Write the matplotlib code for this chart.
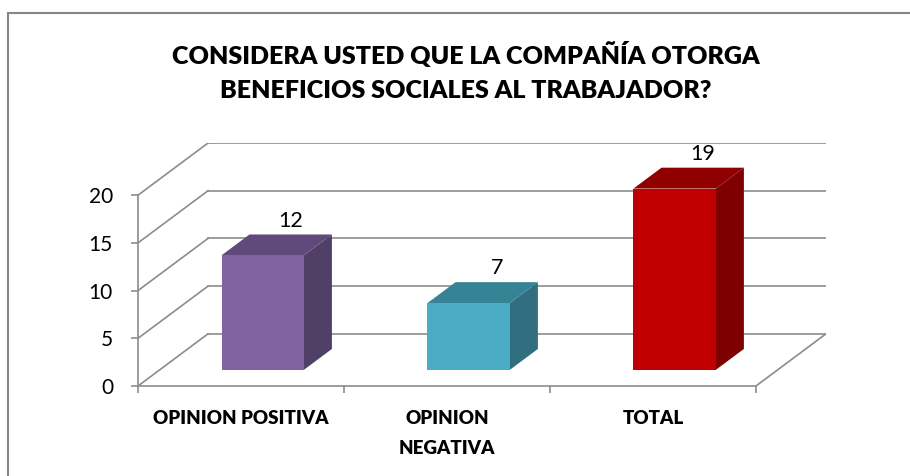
import matplotlib.pyplot as plt
from matplotlib.patches import Polygon
from matplotlib.lines import Line2D

categories = ['OPINION POSITIVA', 'OPINION\nNEGATIVA', 'TOTAL']
values = [12, 7, 19]
front_colors = ['#8064A2', '#4BACC6', '#C00000']
top_colors = ['#604A7B', '#368396', '#900000']
side_colors = ['#503F66', '#316F80', '#7F0000']
yticks = [0, 5, 10, 15, 20]

plt.rcParams['font.family'] = ['Lato', 'DejaVu Sans']

W, H = 910, 476
fig = plt.figure(figsize=(W / 100, H / 100), dpi=100)
# axes: front-left corner of the 3d box at (0, 0)
ax = fig.add_axes([138 / W, (H - 386) / H, (826 - 138) / W, (386 - 143) / H])
ax.set_xlim(0, 3.34)
ax.set_ylim(0, 25.47)

# depth offset of the back wall in data units
dx, dy = 0.34, 5.47
grid = '#8C8C8C'

# back wall gridlines + side wall diagonals
for v in yticks:
    ax.plot([0, dx], [v, v + dy], color=grid, lw=1.2)
    ax.plot([dx, 3 + dx], [v + dy, v + dy], color=grid, lw=1.2)
# floor right edge
ax.plot([3, 3 + dx], [0, dy], color=grid, lw=1.2)

# bars as boxes
w = 0.4
z0, z1 = 0.31, 0.71
for i, v in enumerate(values):
    x0 = i + 0.5 - w / 2 + z0 * dx
    b = z0 * dy
    ddx, ddy = (z1 - z0) * dx, (z1 - z0) * dy
    ax.add_patch(Polygon([(x0 + w, b), (x0 + w + ddx, b + ddy), (x0 + w + ddx, b + ddy + v), (x0 + w, b + v)],
                         closed=True, fc=side_colors[i], ec='none', zorder=3))
    ax.add_patch(Polygon([(x0, b + v), (x0 + w, b + v), (x0 + w + ddx, b + v + ddy), (x0 + ddx, b + v + ddy)],
                         closed=True, fc=top_colors[i], ec='none', zorder=3))
    ax.add_patch(Polygon([(x0, b), (x0 + w, b), (x0 + w, b + v), (x0, b + v)],
                         closed=True, fc=front_colors[i], ec='none', zorder=4))
    ax.text(x0 + ddx + w / 2, b + v + ddy + 0.4, str(v), ha='center', va='bottom', fontsize=15.5, zorder=5)

# front axes
for s in ['top', 'right']:
    ax.spines[s].set_visible(False)
ax.spines['left'].set_bounds(0, 20)
ax.spines['bottom'].set_bounds(0, 3)
for s in ['left', 'bottom']:
    ax.spines[s].set_color(grid)
    ax.spines[s].set_linewidth(1.2)
ax.set_yticks(yticks)
ax.set_yticklabels([str(t) for t in yticks], fontsize=15)
ax.set_xticks([0, 1, 2, 3])
ax.set_xticklabels([])
ax.set_xticks([0.5, 1.5, 2.5], minor=True)
ax.set_xticklabels(categories, minor=True, fontsize=13.5, fontweight='heavy', va='top', linespacing=1.95)
ax.tick_params(axis='both', which='major', direction='out', length=5, color=grid, width=1.2)
ax.tick_params(axis='y', pad=13)
ax.tick_params(axis='x', which='minor', length=0, pad=17)
ax.patch.set_alpha(0)

fig.text(466 / W, 1 - 55 / H, 'CONSIDERA USTED QUE LA COMPAÑÍA OTORGA', ha='center', va='center',
         fontsize=18, fontweight='heavy')
fig.text(466 / W, 1 - 91 / H, 'BENEFICIOS SOCIALES AL TRABAJADOR?', ha='center', va='center',
         fontsize=18, fontweight='heavy')

# chart-area border (only top and left visible)
fig.add_artist(Line2D([7.5 / W, 1], [1 - 12.5 / H, 1 - 12.5 / H], color='#868686', lw=1.5))
fig.add_artist(Line2D([7.5 / W, 7.5 / W], [0, 1 - 12.5 / H], color='#868686', lw=1.5))

fig.savefig('out.png', dpi=100, facecolor='white')
